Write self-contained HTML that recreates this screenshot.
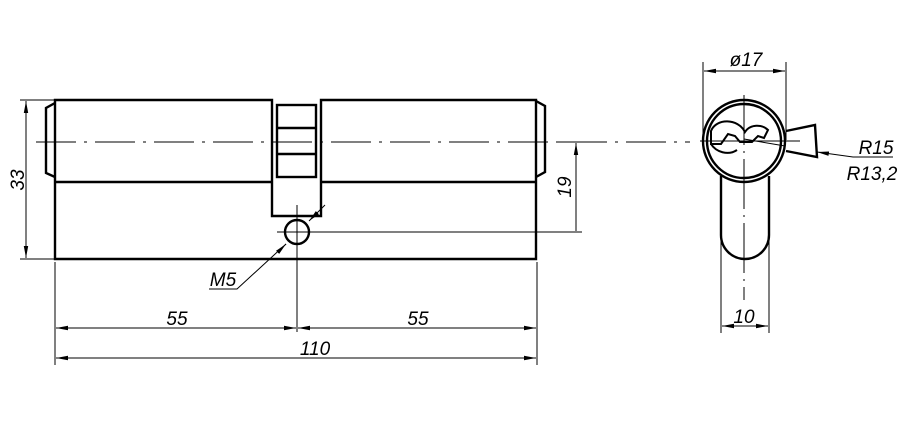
<!DOCTYPE html>
<html><head><style>
html,body{margin:0;padding:0;background:#fff;}
svg{display:block;}
text{font-family:"Liberation Sans",sans-serif;font-style:italic;font-size:19px;fill:#000;}
</style></head><body>
<svg width="909" height="425" viewBox="0 0 909 425" xmlns="http://www.w3.org/2000/svg">
<defs>
<marker id="a" viewBox="0 0 12 6" refX="12" refY="3" markerWidth="12" markerHeight="6" orient="auto-start-reverse" markerUnits="userSpaceOnUse">
<path d="M0,0.8 L12,3 L0,5.2 Z" fill="#000"/></marker>
</defs>
<g fill="none" stroke="#000" stroke-width="2.4">
<!-- body left -->
<path d="M55,100 H272 V216 H321 V100 H536 V259 H55 Z"/>
<path d="M55,182 H272 M321,182 H536"/>
<rect x="277" y="105" width="39" height="72"/>
<path d="M277,128 H316 M277,154 H316"/>
<path d="M272,106 V116 M272,166 V176 M321,106 V116 M321,166 V176" stroke-width="1.5"/>
<!-- knobs -->
<path d="M55,103 L46,108 V173 L55,177"/>
<path d="M536,101 L545,106 V172 L536,177"/>
<circle cx="297" cy="232" r="12"/>
<!-- right view -->
<circle cx="744" cy="141" r="41"/>
<circle cx="744" cy="141" r="37"/>
<path d="M786,131 L815,125 L817,157 L786,151"/>
<path d="M721,176 V235 A24,24 0 0 0 769,235 V176"/>
<path d="M711,131 C716,118 738,118 745,132 C750,124 762,124 768,130 L764,138 L758,136 L752,142 L740,142 L735,136 L728,134 L721,144 L711,144 Z" stroke-width="2"/>
<path d="M711,144 C716,152 728,156 737,150" stroke-width="2"/>
</g>
<g fill="none" stroke="#000" stroke-width="1">
<!-- centerlines -->
<path d="M36,142 H690" stroke-dasharray="40,8,3,8"/>
<path d="M700,141 H800"/>
<path d="M744,95 V300" stroke-dasharray="50,6,2,6"/>
<path d="M297,205 V332 M277,232 H582"/>
<!-- 33 -->
<path d="M20,100 H55 M20,259 H55"/>
<path d="M26,101 V258" marker-start="url(#a)" marker-end="url(#a)"/>
<!-- 19 -->
<path d="M556,142 H582"/>
<path d="M576,143 V231" marker-start="url(#a)"/>
<!-- 55/110 -->
<path d="M55,262 V365 M537,262 V365"/>
<path d="M56,328 H296" marker-start="url(#a)" marker-end="url(#a)"/>
<path d="M298,328 H536" marker-start="url(#a)" marker-end="url(#a)"/>
<path d="M56,358 H536" marker-start="url(#a)" marker-end="url(#a)"/>
<!-- M5 -->
<path d="M325,205 L309,221" marker-end="url(#a)"/>
<path d="M286,244 L237,289 H209" />
<path d="M286,244 L285,245" marker-start="url(#a)"/>
<!-- d17 -->
<path d="M703,62 V140 M786,62 V140"/>
<path d="M704,71 H785" marker-start="url(#a)" marker-end="url(#a)"/>
<!-- 10 -->
<path d="M721,240 V333 M769,240 V333"/>
<path d="M722,326 H768" marker-start="url(#a)" marker-end="url(#a)"/>
<!-- R15 -->
<path d="M744,139 L785,146"/>
<path d="M817,152 L853,157 H893" marker-start="url(#a)"/>
</g>
<text x="0" y="0" transform="translate(24,180) rotate(-90)" text-anchor="middle">33</text>
<text x="0" y="0" transform="translate(571,187) rotate(-90)" text-anchor="middle">19</text>
<text x="177" y="325" text-anchor="middle">55</text>
<text x="418" y="325" text-anchor="middle">55</text>
<text x="315" y="355" text-anchor="middle">110</text>
<text x="223" y="286" text-anchor="middle">M5</text>
<text x="746" y="66" text-anchor="middle">ø17</text>
<text x="744" y="323" text-anchor="middle">10</text>
<text x="876" y="154" text-anchor="middle">R15</text>
<text x="872" y="180" text-anchor="middle">R13,2</text>
</svg>
</body></html>
